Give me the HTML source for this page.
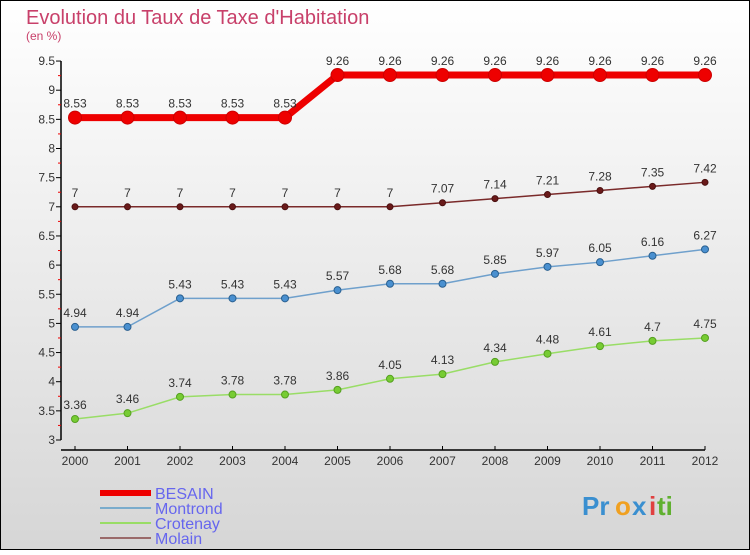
<!DOCTYPE html>
<html><head><meta charset="utf-8"><style>
html,body{margin:0;padding:0}
body{width:750px;height:550px;overflow:hidden;font-family:"Liberation Sans",sans-serif}
svg text{font-family:"Liberation Sans",sans-serif}
</style></head><body>
<svg id="chart" width="750" height="550" xmlns="http://www.w3.org/2000/svg">
<defs><linearGradient id="bg" x1="0" y1="0" x2="0" y2="1"><stop offset="0" stop-color="#ffffff"/><stop offset="1" stop-color="#d6d6d6"/></linearGradient></defs>
<rect x="0.5" y="0.5" width="749" height="549" fill="url(#bg)" stroke="#000" stroke-width="1"/>
<text x="26" y="24" font-size="20" fill="#c8406a">Evolution du Taux de Taxe d'Habitation</text>
<text x="26" y="40" font-size="12" fill="#c8406a">(en %)</text>
<g id="axes"></g><g id="series"></g><g id="legend"></g>
<g font-size="26" font-weight="bold">
<text x="582" y="515" fill="#3a8fd0">Pr</text><text x="615" y="515" fill="#f0a020">o</text><text x="632" y="515" fill="#3a8fd0">x</text><text x="649" y="515" fill="#e04040">i</text><text x="657" y="515" fill="#60b030">ti</text>
</g>
</svg>
<script>
const years=[2000,2001,2002,2003,2004,2005,2006,2007,2008,2009,2010,2011,2012];
const besain=[8.53,8.53,8.53,8.53,8.53,9.26,9.26,9.26,9.26,9.26,9.26,9.26,9.26];
const montrond=[4.94,4.94,5.43,5.43,5.43,5.57,5.68,5.68,5.85,5.97,6.05,6.16,6.27];
const crotenay=[3.36,3.46,3.74,3.78,3.78,3.86,4.05,4.13,4.34,4.48,4.61,4.7,4.75];
const molain=[7,7,7,7,7,7,7,7.07,7.14,7.21,7.28,7.35,7.42];
const yTicks=[3,3.5,4,4.5,5,5.5,6,6.5,7,7.5,8,8.5,9,9.5];
const NS='http://www.w3.org/2000/svg';
const x=i=>75+i*52.5;
const y=v=>440-(v-3)*58.3;
function mk(t,a,p){const e=document.createElementNS(NS,t);for(const k in a)e.setAttribute(k,a[k]);p.appendChild(e);return e;}
const axes=document.getElementById('axes');
let e=mk('line',{x1:61,y1:y(9.5),x2:61,y2:440,stroke:'#000','stroke-width':1.5},axes);


e=mk('line',{x1:61,y1:450,x2:x(12),y2:450,stroke:'#000','stroke-width':1.5},axes);


yTicks.forEach(v=>{
 mk('line',{x1:56,y1:y(v),x2:61,y2:y(v),stroke:'#000'},axes);
 if(v<9.5)mk('line',{x1:58,y1:y(v+0.25),x2:61,y2:y(v+0.25),stroke:'#e00'},axes);
 const t=mk('text',{x:55,y:y(v)+4,'font-size':12,'text-anchor':'end',fill:'#333'},axes);
 t.textContent=String(v);
 
 
});
years.forEach((yr,i)=>{
 mk('line',{x1:x(i),y1:446,x2:x(i),y2:450,stroke:'#000'},axes);
 const t=mk('text',{x:x(i),y:465,'font-size':12,'text-anchor':'middle',fill:'#333'},axes);
 t.textContent=String(yr);
 
 
});
const ser=document.getElementById('series');
function draw(name,vals,color,w,r,dot,dotStroke){
 const g=mk('g',{},ser);
 
 
 mk('polyline',{points:vals.map((v,i)=>x(i)+','+y(v)).join(' '),fill:'none',stroke:color,'stroke-width':w,'stroke-linejoin':'round'},g);
 vals.forEach((v,i)=>{
  const c=mk('circle',{cx:x(i),cy:y(v),r:r,fill:dot,stroke:dotStroke,'stroke-width':1},g);
  
  
  const t=mk('text',{x:x(i),y:y(v)-10,'font-size':12,'text-anchor':'middle',fill:'#333'},g);
  t.textContent=String(v);
  
  
 });
}
draw('molain',molain,'#7a2a2a',1.5,3,'#6a1a1a','#4a1010');
draw('montrond',montrond,'#6fa0cc',1.5,3.5,'#4a90d0','#2a6090');
draw('crotenay',crotenay,'#99dd66',1.5,3.5,'#77cc33','#55a020');
draw('besain',besain,'#ee0000',7,6.5,'#ee0000','#cc0000');
const leg=document.getElementById('legend');
[['BESAIN','#ee0000',6],['Montrond','#7aaccc',2],['Crotenay','#99dd66',2],['Molain','#9a6a6a',2]].forEach((d,i)=>{
 const g=mk('g',{},leg);
 
 
 const ly=493+i*15;
 mk('line',{x1:100,y1:ly,x2:151,y2:ly,stroke:d[1],'stroke-width':d[2]},g);
 const t=mk('text',{x:155,y:ly+6,'font-size':16,fill:'#6666ee'},g);
 t.textContent=d[0];
});
</script>
</body></html>
